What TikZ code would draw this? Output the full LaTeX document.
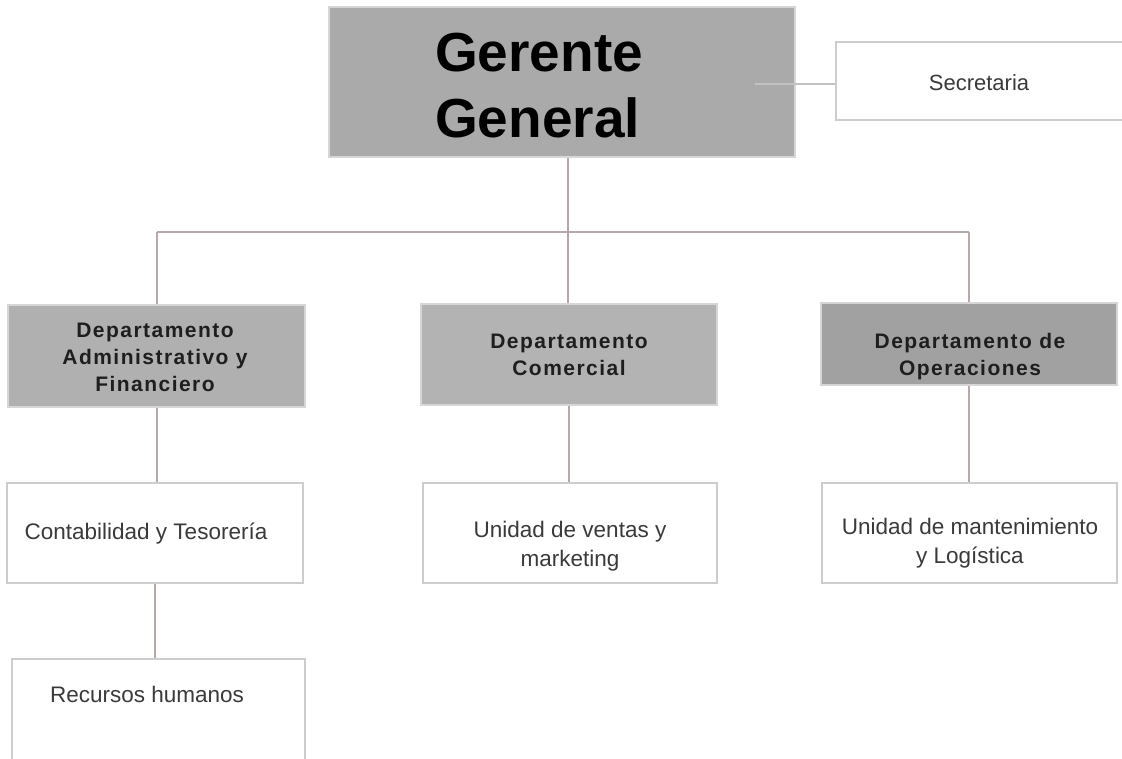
\documentclass[tikz,border=0pt]{standalone}
\usepackage{fontspec}
\setmainfont{Liberation Sans}
\newfontfamily\deptfont[LetterSpace=7]{Liberation Sans}
\definecolor{gerfill}{HTML}{AAAAAA}
\definecolor{admfill}{HTML}{B0B0B0}
\definecolor{comfill}{HTML}{B3B3B3}
\definecolor{opsfill}{HTML}{A1A1A1}
\definecolor{boxedge}{HTML}{CDCDCD}
\definecolor{grayedge}{HTML}{D6D6D6}
\definecolor{conn}{HTML}{B5A9A9}
\definecolor{secconn}{HTML}{C2C2C2}
\definecolor{deptext}{HTML}{1E1E1E}
\definecolor{regtext}{HTML}{3A3A3A}
\begin{document}
\begin{tikzpicture}[x=1pt,y=-1pt,
  graybox/.style={rectangle,inner sep=0pt,draw=grayedge,line width=1.5pt},
  whitebox/.style={rectangle,inner sep=0pt,draw=boxedge,fill=white,line width=2pt},
  depttext/.style={inner sep=0pt,align=center,text=deptext,font={\deptfont\bfseries\fontsize{21}{27}\selectfont}},
  regtext/.style={inner sep=0pt,align=center,text=regtext,font={\fontsize{22.5}{29}\selectfont}},
  connector/.style={draw=conn,line width=2pt}]
\useasboundingbox (0,0) rectangle (1122,758);
% boxes
\node[graybox,fill=gerfill,minimum width=466pt,minimum height=150pt] (ger) at (562,82) {};
\node[whitebox,minimum width=294pt,minimum height=78pt] (sec) at (983,81) {};
\node[graybox,fill=admfill,minimum width=297pt,minimum height=102pt] (adm) at (156.5,356) {};
\node[graybox,fill=comfill,minimum width=296pt,minimum height=101pt] (com) at (569,354.5) {};
\node[graybox,fill=opsfill,minimum width=296pt,minimum height=82pt] (ops) at (969,344) {};
\node[whitebox,minimum width=296pt,minimum height=100pt] (cont) at (155,533) {};
\node[whitebox,minimum width=293pt,minimum height=111pt] (rrhh) at (158.5,714.5) {};
\node[whitebox,minimum width=294pt,minimum height=100pt] (ven) at (570,533) {};
\node[whitebox,minimum width=295pt,minimum height=100pt] (man) at (969.5,533) {};
% texts
\node[inner sep=0pt,anchor=west,align=left,font={\bfseries\fontsize{55}{66}\selectfont}] (tger) at (435,85.5) {Gerente\\General};
\node[regtext,font={\fontsize{22}{28}\selectfont}] (tsec) at (979,83) {Secretaria};
\node[depttext] (tadm) at (155,357) {Departamento\\Administrativo y\\Financiero};
\node[depttext] (tcom) at (569,355) {Departamento\\Comercial};
\node[depttext] (tops) at (970,357) {Departamento de\\Operaciones};
\node[regtext] (tcont) at (146,534) {Contabilidad y Tesorería};
\node[regtext] (trrhh) at (147,694.5) {Recursos humanos};
\node[regtext] (tven) at (570,546.5) {Unidad de ventas y\\marketing};
\node[regtext] (tman) at (970,543) {Unidad de mantenimiento\\y Logística};
% connectors
\coordinate (secstart) at (755,84);
\coordinate (j) at (568,232);
\draw[draw=secconn,line width=2pt] (secstart) -- (secstart -| sec.west);
\draw[connector] (j |- ger.south) -- (j);
\draw[connector] (adm.north |- j) -- (ops.north |- j);
\draw[connector] (adm.north |- j) -- (adm.north);
\draw[connector] (j) -- (j |- com.north);
\draw[connector] (ops.north |- j) -- (ops.north);
\draw[connector] (adm.south) -- (adm.south |- cont.north);
\draw[connector] (cont.south) -- (cont.south |- rrhh.north);
\draw[connector] (com.south) -- (com.south |- ven.north);
\draw[connector] (ops.south) -- (ops.south |- man.north);
\end{tikzpicture}
\end{document}
